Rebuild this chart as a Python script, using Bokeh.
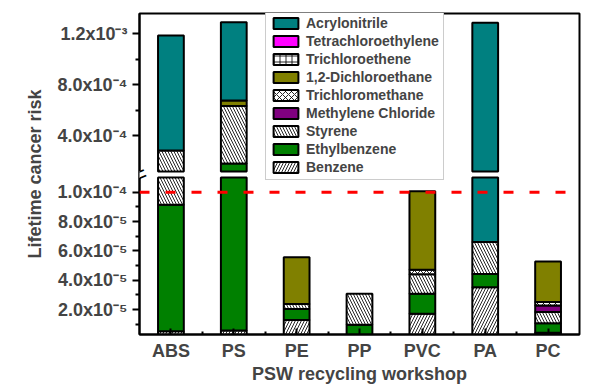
import numpy as np
from bokeh.plotting import figure
from bokeh.models import Range1d, FixedTicker, Span, Legend, LegendItem, ColumnDataSource, Label
from bokeh.embed import file_html
from bokeh.resources import INLINE

# ---------------- data ----------------
workshops = ["ABS", "PS", "PE", "PP", "PVC", "PA", "PC"]

benzene             = [5.3e-6, 5.8e-6, 1.29e-5, 1.0e-6, 1.72e-5, 3.53e-5, 4.2e-6]
ethylbenzene        = [8.61e-5, 1.77e-4, 0.75e-5, 0.87e-5, 1.36e-5, 0.90e-5, 0.66e-5]
styrene             = [1.936e-4, 4.51e-4, 0.34e-5, 2.11e-5, 1.33e-5, 2.18e-5, 0.76e-5]
methylene_chloride  = [0, 0, 0, 0, 0, 0, 0.44e-5]
trichloromethane    = [0, 0, 0, 0, 0.30e-5, 0, 0.24e-5]
dichloroethane      = [0, 4.3e-5, 3.19e-5, 0, 5.36e-5, 0, 2.76e-5]
trichloroethene     = [0, 0, 0, 0, 0, 0, 0]
tetrachloroethylene = [0, 0, 0, 0, 0, 0, 0]
acrylonitrile       = [9.02e-4, 6.14e-4, 0, 0, 0, 1.22e-3, 0]

lower_ticks = [2e-5, 4e-5, 6e-5, 8e-5, 1e-4]
lower_tick_labels = ["2.0x10\u207b\u2075", "4.0x10\u207b\u2075", "6.0x10\u207b\u2075",
                     "8.0x10\u207b\u2075", "1.0x10\u207b\u2074"]
lower_minor = [1e-5, 3e-5, 5e-5, 7e-5, 9e-5]
upper_ticks = [4e-4, 8e-4, 1.2e-3]
upper_tick_labels = ["4.0x10\u207b\u2074", "8.0x10\u207b\u2074", "1.2x10\u207b\u00b3"]
upper_minor = [6e-4, 1e-3]
threshold = 1e-4

# ---------------- layout constants ----------------
L0, L1 = 3.07e-6, 2.217e-4        # lower scale over the full frame
U0, U1 = -1.1584e-3, 1.3592e-3    # upper scale over the full frame
L_HI, U_LO = 1.1e-4, 1.2e-4       # axis break
FONT = "Liberation Sans"

def to_lower(v):
    return L0 + (v - U0) * (L1 - L0) / (U1 - U0)

p = figure(width=594, height=386, x_range=Range1d(-0.5, 6.5), y_range=Range1d(L0, L1),
           output_backend="svg", toolbar_location=None,
           min_border_left=139, min_border_right=15, min_border_top=13, min_border_bottom=52)
p.extra_y_ranges = {"upper": Range1d(U0, U1)}
p.xgrid.visible = False
p.ygrid.visible = False
p.outline_line_color = "black"
p.outline_line_width = 2
p.background_fill_color = "white"
p.border_fill_color = "white"

series = [
    ("Benzene", benzene, dict(fill_color="white", hatch_pattern="/")),
    ("Ethylbenzene", ethylbenzene, dict(fill_color="#008000")),
    ("Styrene", styrene, dict(fill_color="white", hatch_pattern="\\")),
    ("Methylene Chloride", methylene_chloride, dict(fill_color="#800080")),
    ("Trichloromethane", trichloromethane, dict(fill_color="white", hatch_pattern="x")),
    ("1,2-Dichloroethane", dichloroethane, dict(fill_color="#808000")),
    ("Trichloroethene", trichloroethene, dict(fill_color="white", hatch_pattern="+")),
    ("Tetrachloroethylene", tetrachloroethylene, dict(fill_color="#FF00FF")),
    ("Acrylonitrile", acrylonitrile, dict(fill_color="#008080")),
]

idx = np.arange(len(workshops), dtype=float)
cum = np.zeros(len(workshops))
items = []
for name, vals, style in series:
    vals = np.array(vals, dtype=float)
    lo = cum.copy()
    hi = cum + vals
    cum = hi
    st = dict(line_color="black", line_width=2, hatch_color="black", hatch_weight=1,
              hatch_scale=6, hatch_alpha=0.85)
    st.update(style)
    ml = (vals > 0) & (lo < L_HI)
    src_l = ColumnDataSource(dict(x=idx[ml], bottom=lo[ml], top=np.minimum(hi, L_HI)[ml]))
    p.vbar(x="x", bottom="bottom", top="top", width=0.41, source=src_l, **st)
    mu = (vals > 0) & (hi > U_LO)
    src_u = ColumnDataSource(dict(x=idx[mu], bottom=np.maximum(lo, U_LO)[mu], top=hi[mu]))
    p.vbar(x="x", bottom="bottom", top="top", width=0.41, source=src_u,
           y_range_name="upper", **st)
    # full-series renderer used only for the legend swatch
    r_leg = p.vbar(x=idx, bottom=lo, top=hi, width=0.41, visible=False, **st)
    items.append(LegendItem(label=name, renderers=[r_leg]))

# threshold line
p.add_layout(Span(location=threshold, dimension="width", line_color="#FF0000",
                  line_width=3, line_dash="10 16"))

# legend
legend = Legend(items=list(reversed(items)), location=(126, 154),
                label_text_font=FONT, label_text_font_size="14px", label_text_font_style="bold",
                glyph_width=31, glyph_height=14, label_height=14, spacing=2, padding=4,
                margin=0, label_standoff=5, border_line_color="#999999", border_line_width=1,
                background_fill_color="white", background_fill_alpha=1)
p.add_layout(legend)

# y axis
ya = p.yaxis[0]
up_pos = [to_lower(t) for t in upper_ticks]
ya.ticker = FixedTicker(ticks=lower_ticks + up_pos,
                        minor_ticks=lower_minor + [to_lower(t) for t in upper_minor])
ov = {}
for t, lab in zip(lower_ticks, lower_tick_labels):
    ov[t] = lab
for t, lab in zip(up_pos, upper_tick_labels):
    ov[t] = lab
ya.major_label_overrides = ov
ya.axis_label = "Lifetime cancer risk"
ya.axis_label_text_font = FONT
ya.axis_label_text_font_size = "18px"
ya.axis_label_text_font_style = "bold"
ya.axis_label_standoff = 10
ya.major_label_text_font = FONT
ya.major_label_text_font_size = "18px"
ya.major_label_text_font_style = "bold"
ya.major_label_standoff = 5
ya.axis_line_width = 2
ya.major_tick_line_width = 2
ya.major_tick_out = 7
ya.major_tick_in = 0
ya.minor_tick_line_width = 2
ya.minor_tick_out = 4
ya.minor_tick_in = 0

# x axis
xa = p.xaxis[0]
xa.ticker = FixedTicker(ticks=list(idx), minor_ticks=list(idx[:-1] + 0.5))
xa.major_label_overrides = {float(i): w for i, w in zip(idx, workshops)}
xa.axis_label = "PSW recycling workshop"
xa.axis_label_text_font = FONT
xa.axis_label_text_font_size = "18px"
xa.axis_label_text_font_style = "bold"
xa.axis_label_standoff = 0
xa.major_label_text_font = FONT
xa.major_label_text_font_size = "18px"
xa.major_label_text_font_style = "bold"
xa.major_label_standoff = 6
xa.axis_line_width = 2
xa.major_tick_line_width = 2
xa.major_tick_in = 6
xa.major_tick_out = 0
xa.minor_tick_line_width = 2
xa.minor_tick_in = 3
xa.minor_tick_out = 0

# axis break mark
brk_y = (L_HI + to_lower(U_LO)) / 2
p.add_layout(Label(x=-0.5, y=brk_y, text="\u2002", text_align="center",
                   text_baseline="middle", text_font=FONT, text_font_size="7px",
                   background_fill_color="white", background_fill_alpha=1))
p.add_layout(Label(x=-0.5, y=brk_y, text="=", text_align="center", angle=0.4,
                   text_baseline="middle", text_font=FONT, text_font_size="24px",
                   text_color="black"))

open("out.html", "w").write(file_html(p, INLINE))
